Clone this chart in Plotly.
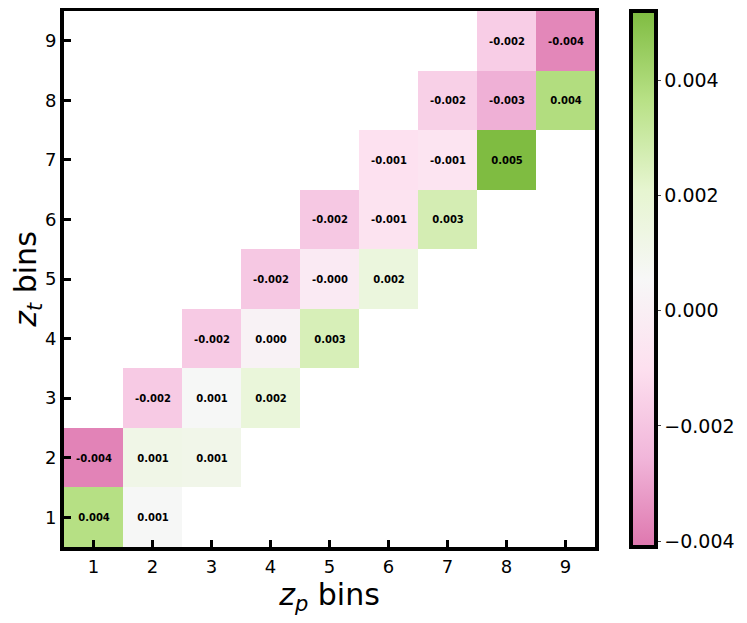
import numpy as np
import plotly.graph_objects as go

# --- Data: residual per (z_p, z_t) bin pair, only the near-diagonal cells are filled ---
bins = [1, 2, 3, 4, 5, 6, 7, 8, 9]

# (z_t row, z_p column, value)
row_t = [1, 1, 2, 2, 2, 3, 3, 3, 4, 4, 4, 5, 5, 5, 6, 6, 6, 7, 7, 7, 8, 8, 8, 9, 9]
col_p = [1, 2, 1, 2, 3, 2, 3, 4, 3, 4, 5, 4, 5, 6, 5, 6, 7, 6, 7, 8, 7, 8, 9, 8, 9]
vals = [0.0037, 0.0006,
        -0.0038, 0.0012, 0.0011,
        -0.0018, 0.0006, 0.0017,
        -0.0018, 0.0002, 0.0026,
        -0.0019, -0.0003, 0.0016,
        -0.0019, -0.0008, 0.0027,
        -0.0009, -0.0007, 0.0052,
        -0.0016, -0.0027, 0.0038,
        -0.0017, -0.0037]

zmin, zmax = -0.0041, 0.0052

# PiYG, truncated to its 0.2 .. 0.8 part
piyg_cut = ["#de77ae", "#f1b6da", "#fde0ef", "#f7f7f7", "#e6f5d0", "#b8e186", "#7fbc41"]
colorscale = [[i / (len(piyg_cut) - 1), c] for i, c in enumerate(piyg_cut)]

Z = np.full((len(bins), len(bins)), np.nan)
T = [["" for _ in bins] for _ in bins]
for t, p, v in zip(row_t, col_p, vals):
    Z[t - 1, p - 1] = v
    T[t - 1][p - 1] = f"{v:.3f}"

fig = go.Figure()
fig.add_trace(go.Heatmap(
    x=bins, y=bins, z=Z, text=T,
    texttemplate="<b>%{text}</b>",
    textfont=dict(family="DejaVu Sans", size=10, color="black"),
    colorscale=colorscale, zmin=zmin, zmax=zmax,
    colorbar=dict(
        x=1.068, xanchor="left", y=0.5, yanchor="middle",
        len=1.0, thickness=25, xpad=0, ypad=0,
        outlinewidth=4, outlinecolor="black",
        tickvals=[-0.004, -0.002, 0.0, 0.002, 0.004],
        tickformat=".3f", ticks="outside", ticklen=3, tickwidth=1,
        tickfont=dict(family="DejaVu Sans", size=19, color="black"),
    ),
    hoverongaps=False,
))

axis_style = dict(
    range=[0.5, 9.5], tickvals=bins, automargin=False,
    showline=True, mirror=True, linewidth=4, linecolor="black",
    ticks="inside", ticklen=7, tickwidth=3, tickcolor="black",
    tickfont=dict(family="DejaVu Sans", size=18, color="black"),
    showgrid=False, zeroline=False,
)

# page body adds an 8px offset, margins account for it
fig.update_layout(
    width=747, height=623,
    margin=dict(l=56, r=160, t=3, b=84, autoexpand=False),
    plot_bgcolor="white", paper_bgcolor="white",
    xaxis=dict(axis_style, title=dict(text="<i>z</i><sub><i>p</i></sub> bins",
                                      font=dict(family="DejaVu Sans", size=30, color="black"),
                                      standoff=2)),
    yaxis=dict(axis_style, title=dict(text="<i>z</i><sub><i>t</i></sub> bins",
                                      font=dict(family="DejaVu Sans", size=30, color="black"),
                                      standoff=2)),
)

fig.write_html("out.html")
